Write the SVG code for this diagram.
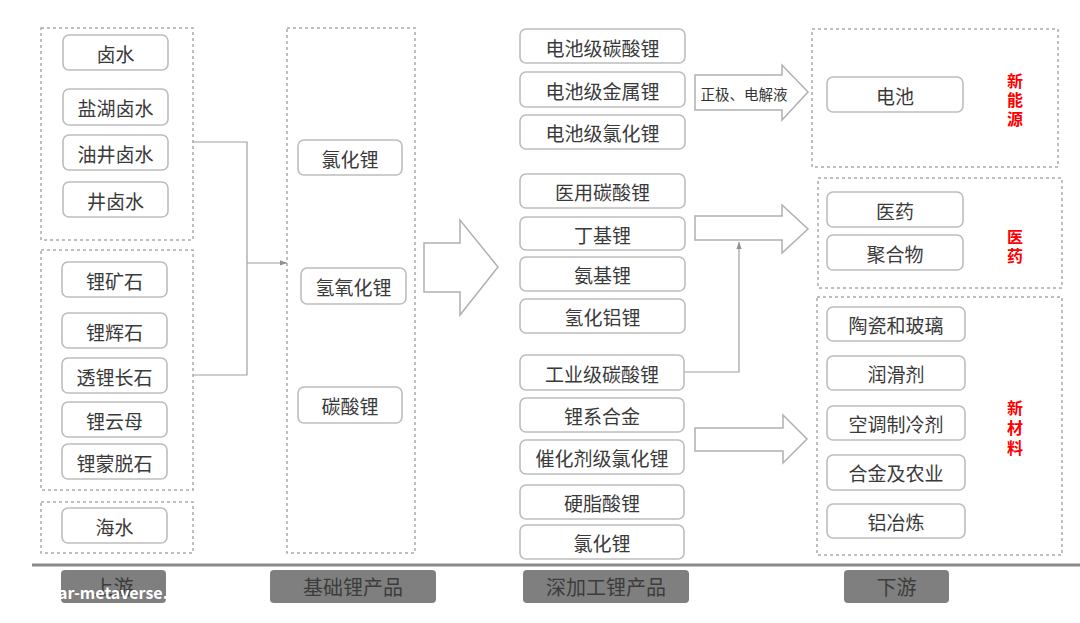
<svg xmlns="http://www.w3.org/2000/svg" width="1080" height="623" viewBox="0 0 1080 623">
<style>
text{font-family:"Noto Sans CJK SC","Noto Sans",sans-serif;}
.grp{fill:none;stroke:#aaa;stroke-width:1.5;stroke-dasharray:3 3;}
.nd rect{fill:#fff;stroke:#bdbdbd;stroke-width:1.6;}
.nd text{font-size:19px;fill:#3a3a3a;text-anchor:middle;dominant-baseline:central;}
.red{font-size:16px;font-weight:bold;fill:#f00;text-anchor:middle;writing-mode:vertical-rl;letter-spacing:3px;}
.big{fill:#fff;stroke:#b0b0b0;stroke-width:1.5;}
.ln{fill:none;stroke:#a0a0a0;stroke-width:1.2;}
.sec rect{fill:#7f7f7f;}
.sec text{font-size:20px;fill:#3c3c3c;text-anchor:middle;dominant-baseline:central;}
</style>
<defs>
<marker id="ah" viewBox="0 0 8 8" refX="8" refY="4" markerWidth="6" markerHeight="6" orient="auto">
<path d="M0,1 L8,4 L0,7 Z" fill="#909090"/>
</marker>
</defs>
<rect width="1080" height="623" fill="#fff"/>

<g id="containers">
<rect class="grp" x="41" y="28" width="152" height="212"/>
<rect class="grp" x="41" y="250" width="152" height="240"/>
<rect class="grp" x="41" y="502" width="152" height="51"/>
<rect class="grp" x="287" y="28" width="128" height="525"/>
<rect class="grp" x="812" y="29" width="246" height="138"/>
<rect class="grp" x="818" y="178" width="244" height="110"/>
<rect class="grp" x="817" y="297" width="245" height="258"/>
</g>

<g id="connectors">
<polyline class="ln" points="193,142 247,142 247,375 193,375"/>
<line class="ln" x1="247" y1="263" x2="287" y2="263" marker-end="url(#ah)"/>
<polyline class="ln" points="684,372 739,372 739,242" marker-end="url(#ah)"/>
<path class="big" d="M424,243 L460,243 L460,220 L498,267 L460,315 L460,292 L424,292 Z"/>
<path class="big" d="M695,75 L782,75 L782,65 L808,92 L782,120 L782,110 L695,110 Z"/>
<text x="744" y="93" font-size="14.5" fill="#333" text-anchor="middle" dominant-baseline="central">正极、电解液</text>
<path class="big" d="M695,216 L782,216 L782,205 L808,229 L782,253 L782,240 L695,240 Z"/>
<path class="big" d="M695,428 L783,428 L783,415 L807,439 L783,463 L783,451 L695,451 Z"/>
</g>

<g id="n-lushui" class="nd"><rect x="63" y="35" width="105" height="35" rx="6"/><text x="115.5" y="53">卤水</text></g>
<g id="n-yanhu" class="nd"><rect x="63" y="89" width="105" height="36" rx="6"/><text x="115.5" y="107">盐湖卤水</text></g>
<g id="n-youjing" class="nd"><rect x="63" y="135" width="105" height="35" rx="6"/><text x="115.5" y="153">油井卤水</text></g>
<g id="n-jing" class="nd"><rect x="63" y="182" width="105" height="35" rx="6"/><text x="115.5" y="200">井卤水</text></g>
<g id="n-kuangshi" class="nd"><rect x="62" y="262" width="105" height="35" rx="6"/><text x="114.5" y="280">锂矿石</text></g>
<g id="n-huishi" class="nd"><rect x="62" y="313" width="105" height="35" rx="6"/><text x="114.5" y="331">锂辉石</text></g>
<g id="n-touli" class="nd"><rect x="62" y="358" width="105" height="35" rx="6"/><text x="114.5" y="376">透锂长石</text></g>
<g id="n-yunmu" class="nd"><rect x="62" y="402" width="105" height="35" rx="6"/><text x="114.5" y="420">锂云母</text></g>
<g id="n-mengtuo" class="nd"><rect x="62" y="444" width="105" height="35" rx="6"/><text x="114.5" y="462">锂蒙脱石</text></g>
<g id="n-haishui" class="nd"><rect x="62" y="508" width="105" height="35" rx="6"/><text x="114.5" y="526">海水</text></g>

<g id="b-lvhuali" class="nd"><rect x="298" y="140" width="104" height="35" rx="6"/><text x="350" y="158">氯化锂</text></g>
<g id="b-qingyanghuali" class="nd"><rect x="301" y="268" width="105" height="36" rx="6"/><text x="353.5" y="286">氢氧化锂</text></g>
<g id="b-tansuanli" class="nd"><rect x="298" y="387" width="104" height="36" rx="6"/><text x="350" y="405">碳酸锂</text></g>

<g id="d1" class="nd"><rect x="520" y="29" width="165" height="34" rx="6"/><text x="602.5" y="47">电池级碳酸锂</text></g>
<g id="d2" class="nd"><rect x="520" y="72" width="165" height="35" rx="6"/><text x="602.5" y="90">电池级金属锂</text></g>
<g id="d3" class="nd"><rect x="520" y="115" width="165" height="34" rx="6"/><text x="602.5" y="132">电池级氯化锂</text></g>
<g id="d4" class="nd"><rect x="520" y="174" width="165" height="34" rx="6"/><text x="602.5" y="191">医用碳酸锂</text></g>
<g id="d5" class="nd"><rect x="520" y="217" width="165" height="33" rx="6"/><text x="602.5" y="234">丁基锂</text></g>
<g id="d6" class="nd"><rect x="520" y="257" width="165" height="34" rx="6"/><text x="602.5" y="274">氨基锂</text></g>
<g id="d7" class="nd"><rect x="520" y="299" width="165" height="34" rx="6"/><text x="602.5" y="316">氢化铝锂</text></g>
<g id="d8" class="nd"><rect x="520" y="355" width="164" height="35" rx="6"/><text x="602" y="373">工业级碳酸锂</text></g>
<g id="d9" class="nd"><rect x="520" y="398" width="164" height="34" rx="6"/><text x="602" y="415">锂系合金</text></g>
<g id="d10" class="nd"><rect x="520" y="440" width="164" height="34" rx="6"/><text x="602" y="457">催化剂级氯化锂</text></g>
<g id="d11" class="nd"><rect x="520" y="485" width="164" height="34" rx="6"/><text x="602" y="502">硬脂酸锂</text></g>
<g id="d12" class="nd"><rect x="520" y="525" width="164" height="34" rx="6"/><text x="602" y="542">氯化锂</text></g>

<g id="u-dianchi" class="nd"><rect x="827" y="77" width="136" height="35" rx="6"/><text x="895" y="95">电池</text></g>
<g id="u-yiyao" class="nd"><rect x="827" y="192" width="136" height="35" rx="6"/><text x="895" y="210">医药</text></g>
<g id="u-juhewu" class="nd"><rect x="827" y="235" width="136" height="35" rx="6"/><text x="895" y="253">聚合物</text></g>
<g id="u-taoci" class="nd"><rect x="827" y="307" width="138" height="34" rx="6"/><text x="896" y="324">陶瓷和玻璃</text></g>
<g id="u-runhua" class="nd"><rect x="827" y="356" width="138" height="34" rx="6"/><text x="896" y="373">润滑剂</text></g>
<g id="u-kongtiao" class="nd"><rect x="827" y="406" width="138" height="34" rx="6"/><text x="896" y="423">空调制冷剂</text></g>
<g id="u-hejin" class="nd"><rect x="827" y="455" width="138" height="35" rx="6"/><text x="896" y="472">合金及农业</text></g>
<g id="u-lvye" class="nd"><rect x="827" y="504" width="138" height="34" rx="6"/><text x="896" y="521">铝冶炼</text></g>

<g id="red-labels">
<text class="red" x="1015" y="101">新能源</text>
<text class="red" x="1015" y="248">医药</text>
<text class="red" x="1015" y="430" style="letter-spacing:4px">新材料</text>
</g>

<line x1="32" y1="565" x2="1080" y2="565" stroke="#8a8a8a" stroke-width="3"/>

<g id="sections" class="sec">
<g id="s-up"><rect x="61" y="570" width="105" height="33" rx="4"/><text x="113.5" y="586">上游</text></g>
<g id="s-base"><rect x="270" y="570" width="166" height="33" rx="4"/><text x="353" y="586">基础锂产品</text></g>
<g id="s-deep"><rect x="523" y="570" width="166" height="33" rx="4"/><text x="606" y="586">深加工锂产品</text></g>
<g id="s-down"><rect x="844" y="570" width="105" height="33" rx="4"/><text x="896.5" y="586">下游</text></g>
</g>
<text x="58" y="599" font-size="16" font-weight="bold" fill="#fff">ar-metaverse.c</text>
</svg>
